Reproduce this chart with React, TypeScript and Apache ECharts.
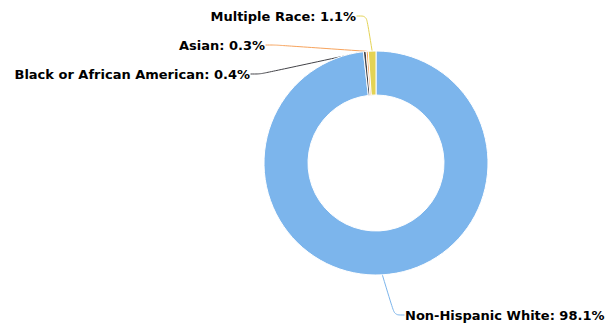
import React, { useEffect, useRef } from "react";
import * as echarts from "echarts";

const categories = ["Non-Hispanic White", "Black or African American", "Asian", "Multiple Race"];
const values = [98.1, 0.4, 0.3, 1.1];
const colors = ["#7cb5ec", "#434348", "#f7a35c", "#e4d354"];

// label anchor positions (pixel) for each slice's label
const labelX = [405, 250, 265, 356];
const labelY = [315, 74, 45, 16];
const labelAlign = ["left", "right", "right", "right"];

export default function App() {
  const ref = useRef<HTMLDivElement>(null);
  useEffect(() => {
    document.body.style.margin = "0";
    const chart = echarts.init(ref.current!, null, { renderer: "svg" });
    chart.setOption({
      animation: false,
      series: [
        {
          type: "pie",
          center: [376, 163],
          radius: [68, 112],
          startAngle: 90,
          clockwise: true,
          avoidLabelOverlap: false,
          itemStyle: { borderColor: "#ffffff", borderWidth: 1 },
          label: {
            show: true,
            formatter: (p: any) => `${p.name}: ${p.value}%`,
            fontFamily: "DejaVu Sans",
            fontWeight: "bold",
            fontSize: 13,
            color: "#000000",
            textBorderColor: "#ffffff",
            textBorderWidth: 1,
          },
          labelLine: {
            show: true,
            length: 10,
            length2: 10,
            smooth: 0.3,
            lineStyle: { width: 1 },
          },
          labelLayout: (p: any) => ({
            x: labelX[p.dataIndex],
            y: labelY[p.dataIndex],
            align: labelAlign[p.dataIndex],
            verticalAlign: "middle",
          }),
          data: categories.map((c, i) => ({
            name: c,
            value: values[i],
            itemStyle: { color: colors[i] },
          })),
        },
      ],
    });
    return () => chart.dispose();
  }, []);
  return <div ref={ref} style={{ width: 605, height: 331 }} />;
}
